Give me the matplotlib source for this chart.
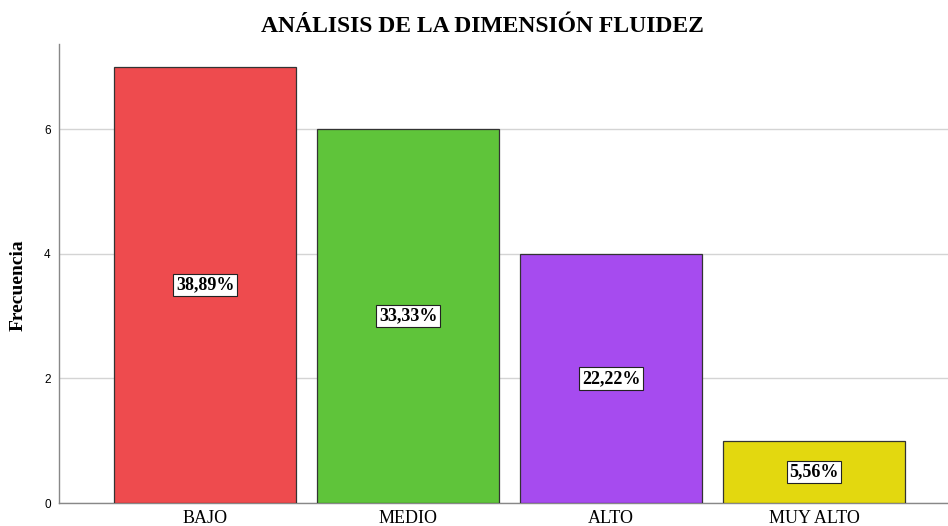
import matplotlib
matplotlib.use("Agg")
import matplotlib.pyplot as plt

categories = ["BAJO", "MEDIO", "ALTO", "MUY ALTO"]
frequencies = [7, 6, 4, 1]
percent_labels = ["38,89%", "33,33%", "22,22%", "5,56%"]
colors = ["#EE4B4E", "#5FC43A", "#A64BEF", "#E3D80F"]
yticks = [0, 2, 4, 6]

fig = plt.figure(figsize=(9.48, 5.26), dpi=100)
ax = fig.add_axes([59/948, 1-503/526, (948-59)/948, (503-44)/526])

x = list(range(len(categories)))
ax.bar(x, frequencies, width=0.9, color=colors, edgecolor="#333333", linewidth=0.9, zorder=3)
for xi, f, lab in zip(x, frequencies, percent_labels):
    ax.text(xi, f/2, lab, ha="center", va="center", fontsize=13, fontweight="bold",
            family="Liberation Serif", zorder=4,
            bbox=dict(boxstyle="square,pad=0.15", fc="white", ec="#222222", lw=0.8))

ax.set_xlim(-0.72, 3.66)
ax.set_ylim(0, 7.37)
ax.set_yticks(yticks)
ax.set_xticks(x)
ax.set_xticklabels(categories, family="Liberation Serif", fontsize=13)
for t in ax.get_yticklabels():
    t.set_family("Liberation Sans")
    t.set_fontsize(8.5)
ax.tick_params(axis="y", length=0, pad=6)
ax.tick_params(axis="x", length=0, pad=5)
ax.yaxis.grid(True, color="#D4D4D4", linewidth=1.0, zorder=0)
ax.set_axisbelow(True)
for s in ["top", "right"]:
    ax.spines[s].set_visible(False)
for s in ["left", "bottom"]:
    ax.spines[s].set_color("#888888")
    ax.spines[s].set_linewidth(1.0)

fig.text(18/948, 1-285/526, "Frecuencia", rotation=90, ha="center", va="center",
         family="Liberation Serif", fontweight="bold", fontsize=14)
fig.text(482/948, 1-27/526, "ANÁLISIS DE LA DIMENSIÓN FLUIDEZ", ha="center", va="center",
         family="Liberation Serif", fontweight="bold", fontsize=17)

fig.savefig("out.png", dpi=100)
